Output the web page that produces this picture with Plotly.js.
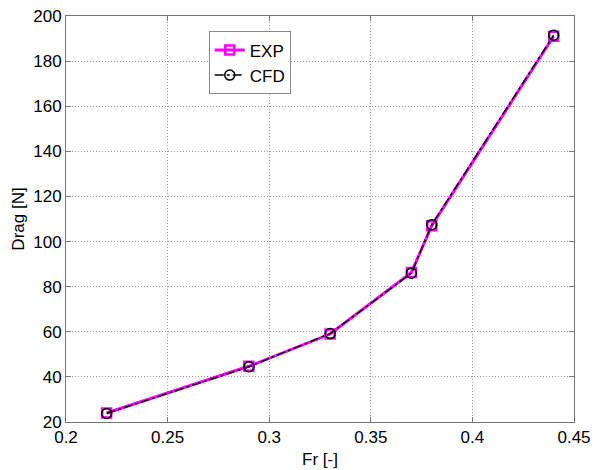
<!DOCTYPE html>
<html>
<head>
<meta charset="utf-8">
<script src="https://cdn.plot.ly/plotly-3.0.1.min.js"></script>
<style>html,body{margin:0;padding:0;background:#fff;}#chart{width:596px;height:470px;}</style>
</head>
<body>
<div id="chart"></div>
<script>
const froude = [0.22, 0.29, 0.33, 0.37, 0.38, 0.44];
const dragExp = [24.0, 44.7, 59.0, 86.3, 107.0, 191.0];
const dragCfd = [23.8, 44.5, 59.2, 86.0, 107.5, 191.5];
const xTicks = [0.2, 0.25, 0.3, 0.35, 0.4, 0.45];
const xTickText = ['0.2', '0.25', '0.3', '0.35', '0.4', '0.45'];
const yTicks = [20, 40, 60, 80, 100, 120, 140, 160, 180, 200];

const font = {family: 'Liberation Sans, Arial, sans-serif', size: 17, color: '#000'};
const traces = [
  {x: froude, y: dragExp, name: 'EXP', mode: 'lines+markers', type: 'scatter',
   line: {color: '#ff00ff', width: 3},
   marker: {symbol: 'square-open', size: 9, color: '#ff00ff', line: {width: 2.5, color: '#ff00ff'}}},
  {x: froude, y: dragCfd, name: 'CFD', mode: 'lines+markers', type: 'scatter',
   line: {color: '#000', width: 1.5, dash: 'dashdot'},
   marker: {symbol: 'circle-open', size: 10, color: '#000', line: {width: 1.5, color: '#000'}}}
];
const axisCommon = {
  showline: true, mirror: 'ticks', linecolor: '#777', linewidth: 1,
  ticks: 'inside', ticklen: 5, tickcolor: '#777',
  showgrid: true, gridcolor: '#999', griddash: '1px,2px', gridwidth: 1,
  zeroline: false, tickfont: font
};
const layout = {
  width: 596, height: 470,
  margin: {l: 66, r: 22, t: 16, b: 48},
  paper_bgcolor: '#fff', plot_bgcolor: '#fff',
  font: font,
  showlegend: true,
  legend: {x: 0.281, y: 0.962, xanchor: 'left', yanchor: 'top',
    bordercolor: '#888', borderwidth: 1, bgcolor: '#fff',
    font: font, tracegroupgap: 0, itemwidth: 30},
  xaxis: Object.assign({}, axisCommon, {
    range: [0.2, 0.45], tickvals: xTicks, ticktext: xTickText,
    title: {text: 'Fr [-]', font: font, standoff: 6}}),
  yaxis: Object.assign({}, axisCommon, {
    range: [20, 200], tickvals: yTicks,
    title: {text: 'Drag [N]', font: font, standoff: 4}})
};
Plotly.newPlot('chart', traces, layout, {displayModeBar: false, staticPlot: true});
</script>
</body>
</html>
